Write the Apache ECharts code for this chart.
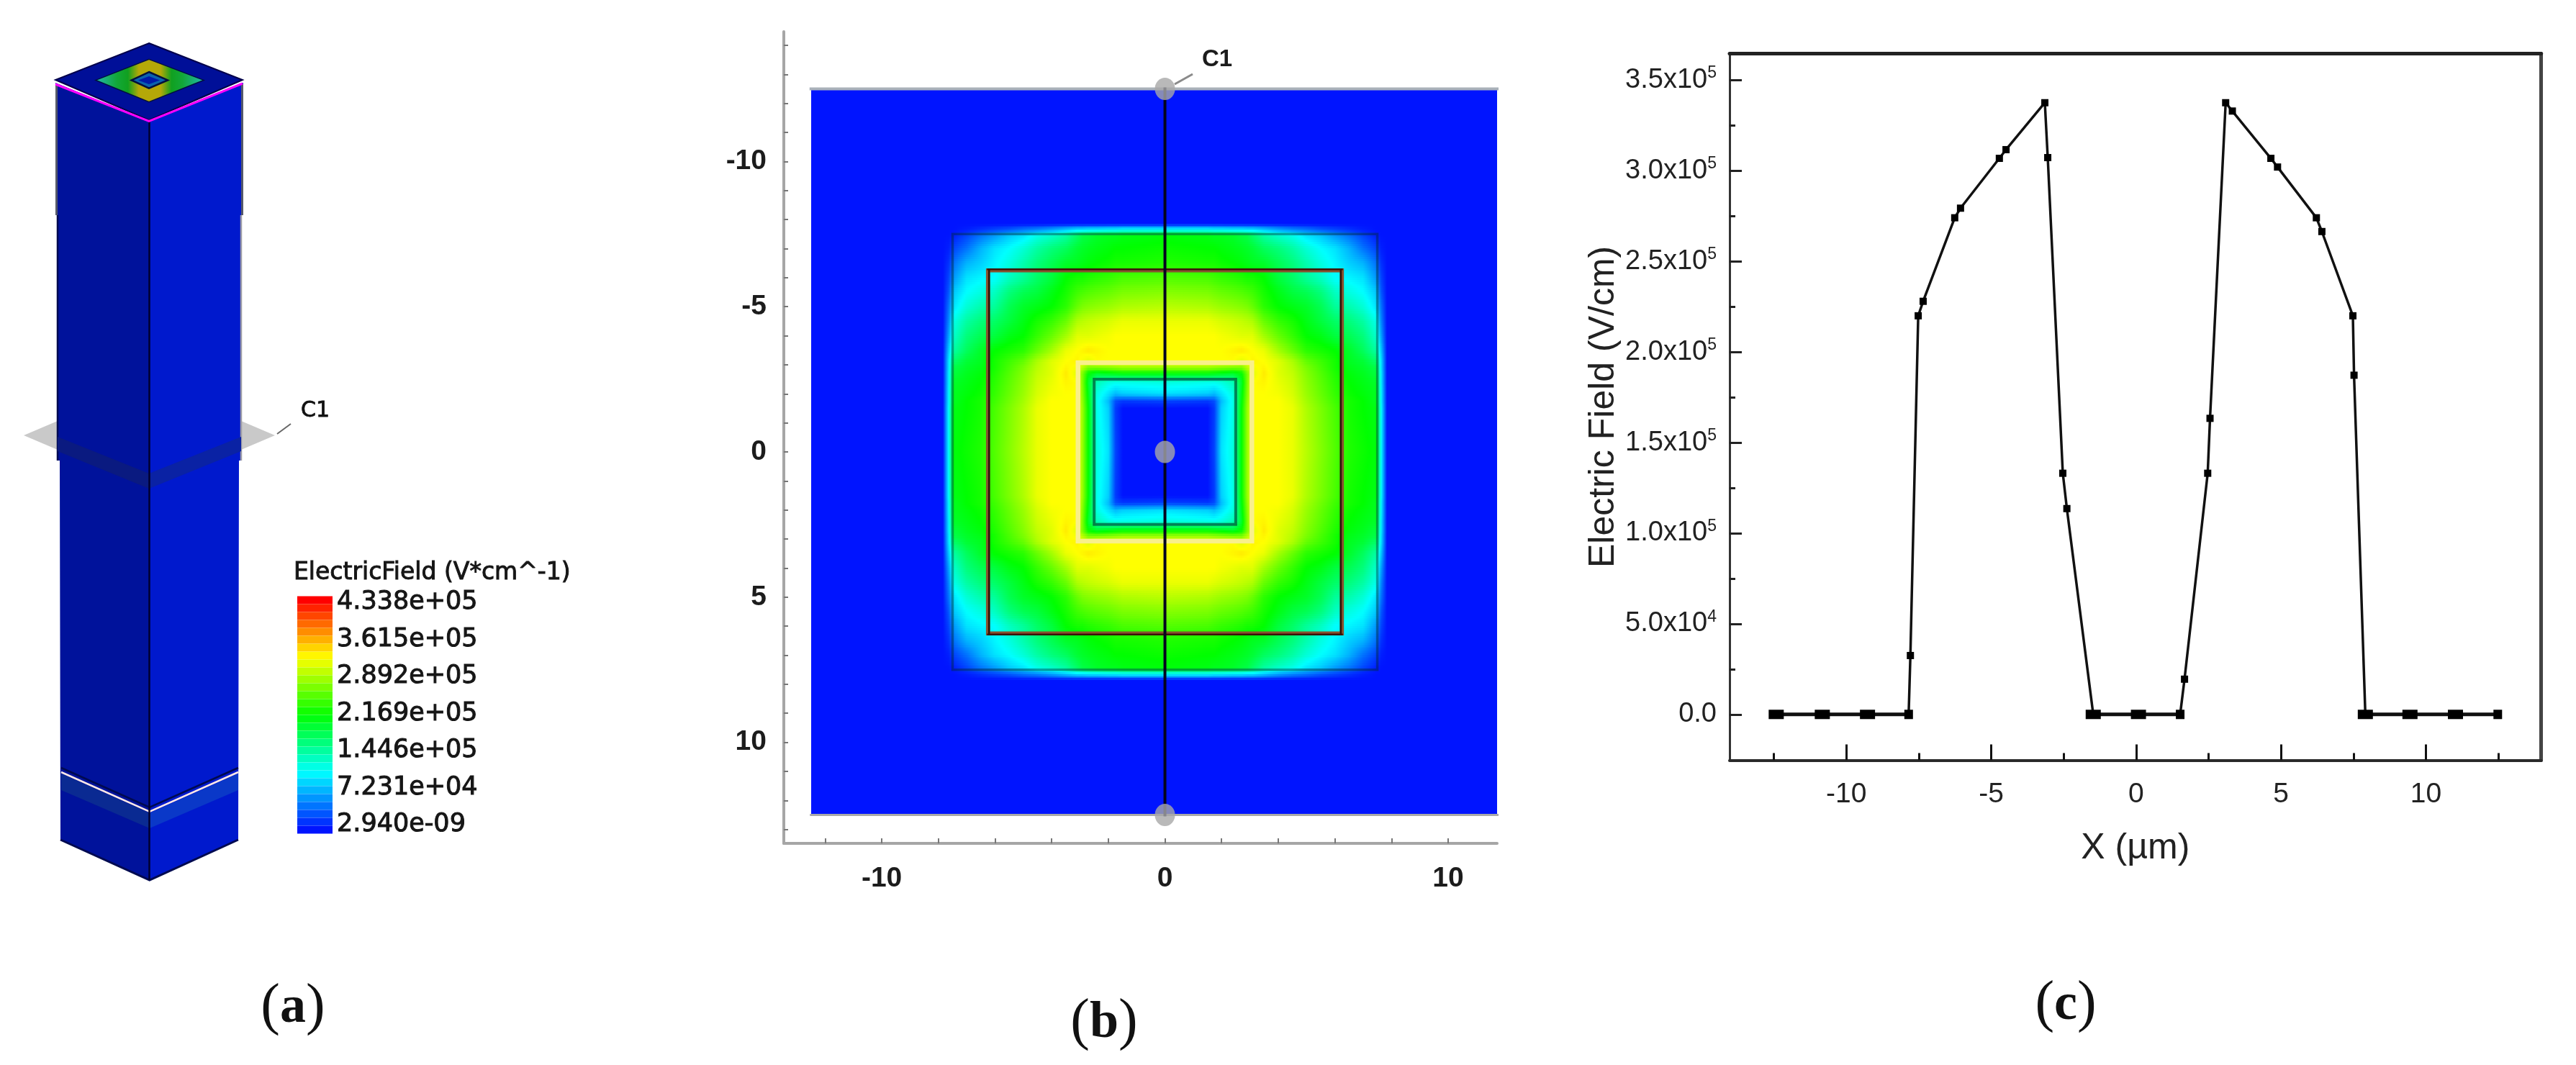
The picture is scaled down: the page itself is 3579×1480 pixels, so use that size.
<!DOCTYPE html>
<html><head><meta charset="utf-8">
<style>html,body{margin:0;padding:0;background:#fff}#chart{width:3579px;height:1480px}</style>
<script src="https://cdn.jsdelivr.net/npm/echarts@6/dist/echarts.min.js"></script>
</head><body><div id="chart"></div>
<script>
// ---- Panel (c): electric field along the cut line
const profileX = [-12.42,-10.83,-9.27,-7.85,-7.79,-7.52,-7.35,-6.26,-6.06,-4.72,-4.49,-3.15,-3.05,-2.53,-2.39,-1.48,0.08,1.52,1.67,2.47,2.55,3.09,3.32,4.65,4.88,6.22,6.41,7.48,7.52,7.91,9.45,11.02,12.48];
const profileField = [0,0,0,0,32500,220000,228000,274100,279400,306900,311700,337600,307300,133100,113600,0,0,0,19450,133100,163400,337600,333000,306900,302100,274100,266500,220000,187200,0,0,0,0];
const profileYTicks = [0,50000,100000,150000,200000,250000,300000,350000];
const profileYMinor = [25000,75000,125000,175000,225000,275000,325000];
const profileYLabels = [['0.0',''],['5.0x10','4'],['1.0x10','5'],['1.5x10','5'],['2.0x10','5'],['2.5x10','5'],['3.0x10','5'],['3.5x10','5']];
const profileXTicks = [-10,-5,0,5,10];
const profileXMinor = [-12.5,-7.5,-2.5,2.5,7.5,12.5];

const fieldCoords = [0,1.5,1.75,2,2.4,2.7,2.9,3.1,3.5,4,4.5,5,5.5,6,6.5,7,7.45,7.65,7.85,12.5];
const fieldQuadrantPct = [
 [0,0,5,22,28,50,65,75,75,75,73,68,63,58,53,51,49,25,0,0],
 [0,0,4,20,27,50,65,75,75,75,73,67,62,57,52,50,48,25,0,0],
 [5,4,6,18,27,49,64,75,75,75,72,66,61,56,52,50,47,24,0,0],
 [22,20,18,22,28,48,63,75,75,74,71,65,60,55,51,49,47,24,0,0],
 [28,27,27,28,32,46,62,75,76,73,70,64,59,54,50,48,46,23,0,0],
 [50,50,49,48,46,50,62,72,77,72,69,63,58,53,49,47,44,23,0,0],
 [65,65,64,63,62,62,68,74,76,72,68,62,57,52,48,46,43,22,0,0],
 [75,75,75,75,75,72,74,76,75,72,67,60,56,52,47,45,40,22,0,0],
 [75,75,75,75,76,77,76,75,73,66,60,54,52,50,46,41,34,19,0,0],
 [75,75,75,74,73,72,72,72,66,60,55,50,48,44,42,38,30,15,0,0],
 [73,73,72,71,70,69,68,67,60,55,52,48,44,40,38,34,27,12,0,0],
 [68,67,66,65,64,63,62,60,54,50,48,46,42,35,33,29,22,10,0,0],
 [63,62,61,60,59,58,57,56,52,48,44,42,38,31,28,25,19,7,0,0],
 [58,57,56,55,54,53,52,52,50,44,40,35,31,25,24,22,14,5,0,0],
 [53,52,52,51,50,49,48,47,46,42,38,33,28,24,20,17,10,3,0,0],
 [51,50,50,49,48,47,46,45,41,38,34,29,25,22,17,10,5,1,0,0],
 [49,48,47,47,46,44,43,40,34,30,27,22,19,14,10,5,1,0,0,0],
 [25,25,24,24,23,23,22,22,19,15,12,10,7,5,3,1,0,0,0,0],
 [0,0,0,0,0,0,0,0,0,0,0,0,0,0,0,0,0,0,0,0],
 [0,0,0,0,0,0,0,0,0,0,0,0,0,0,0,0,0,0,0,0]
];
const mapXLabelValues = [-10,0,10];
const mapXTickValues = [-12,-10,-8,-6,-4,-2,0,2,4,6,8,10];
const mapYLabelValues = [-10,-5,0,5,10];
const mapYTickValues = [-14,-13,-12,-11,-10,-9,-8,-7,-6,-5,-4,-3,-2,-1,0,1,2,3,4,5,6,7,8,9,10,11,12,13];
const cutPointsY = [-12.5,0,12.5];
const frameOuter = 7.5, frameMetal = 6.25, frameLight = 3.07, frameInner = 2.5, fieldEdge = 12.5;

// ---- Colour scale
const scaleMax = 433800;
const scaleColors = ['#0014ff','#00ffff','#00ff00','#ffff00','#ff0000'];
const scaleTicks = [2.94e-9,72310,144600,216900,289200,361500,433800];
const scaleLabels = ['2.940e-09','7.231e+04','1.446e+05','2.169e+05','2.892e+05','3.615e+05','4.338e+05'];

// ---- helpers
const rgb = scaleColors.map(c => [1,3,5].map(k => parseInt(c.slice(k,k+2),16)));
function colorOf(v){
  const t = Math.max(0, Math.min(1, v / scaleMax)) * (rgb.length - 1);
  const k = Math.min(rgb.length - 2, Math.floor(t)), f = t - k;
  const c = rgb[k].map((a, n) => Math.round(a + (rgb[k+1][n] - a) * f));
  return 'rgb(' + c.join(',') + ')';
}
const fieldAxis = fieldCoords.slice(1).reverse().map(v => -v).concat(fieldCoords);
const quadIndex = fieldCoords.slice(1).map((_, i) => fieldCoords.length - 1 - i).concat(fieldCoords.map((_, i) => i));
function nodeValue(i, j){ return fieldQuadrantPct[quadIndex[j]][quadIndex[i]] / 100 * scaleMax; }
const fieldCells = [];
for (let j = 0; j < fieldAxis.length - 1; j++)
  for (let i = 0; i < fieldAxis.length - 1; i++)
    fieldCells.push([fieldAxis[i], fieldAxis[j], nodeValue(i, j), i, j]);

function renderCell(params, api){
  const i = api.value(3), j = api.value(4);
  const a = api.coord([fieldAxis[i], fieldAxis[j]]), b = api.coord([fieldAxis[i+1], fieldAxis[j+1]]);
  const x0 = Math.round(a[0]), x1 = Math.round(b[0]), y0 = Math.round(a[1]), y1 = Math.round(b[1]);
  if (x1 <= x0 || y1 <= y0) return null;
  const v00 = nodeValue(i,j), v10 = nodeValue(i+1,j), v01 = nodeValue(i,j+1), v11 = nodeValue(i+1,j+1);
  const flat = v00 === v10 && v00 === v01 && v00 === v11;
  const rows = flat ? 1 : Math.ceil((y1 - y0) / 3);
  const children = [];
  for (let r = 0; r < rows; r++){
    const top = y0 + Math.round((y1 - y0) * r / rows), bot = y0 + Math.round((y1 - y0) * (r + 1) / rows);
    const f = (r + 0.5) / rows;
    const vl = v00 + (v01 - v00) * f, vr = v10 + (v11 - v10) * f;
    let fill;
    if (vl === vr) fill = colorOf(vl);
    else {
      const stops = [];
      for (let s = 0; s <= 6; s++) stops.push({offset: s / 6, color: colorOf(vl + (vr - vl) * s / 6)});
      fill = new echarts.graphic.LinearGradient(0, 0, 1, 0, stops);
    }
    children.push({type:'rect', shape:{x:x0, y:top, width:x1 - x0, height:bot - top}, style:{fill}, silent:true});
  }
  return {type:'group', children};
}
const square = s => [[-s,-s],[s,-s],[s,s],[-s,s],[-s,-s]];

const narrow = '"Liberation Sans Narrow","Liberation Sans",Arial,sans-serif';
const sans = '"Liberation Sans",Arial,sans-serif';
const dejavu = '"DejaVu Sans",sans-serif';
const serif = '"Liberation Serif",serif';

const lineGap = {type:'line', showSymbol:false, silent:true, animation:false, clip:true};
function frameSeries(data, color, width, z){
  return Object.assign({}, lineGap, {xAxisIndex:1, yAxisIndex:1, data, z, lineStyle:{color, width, cap:'square', join:'miter'}, itemStyle:{color}});
}
const letterRich = {p:{fontFamily:serif, fontSize:80, fill:'#111'}, l:{fontFamily:serif, fontWeight:'bold', fontSize:72, fill:'#111'}};

const option = {
  animation:false,
  backgroundColor:'#ffffff',
  tooltip:{show:false},
  grid:[
    {left:413, top:828.6, width:49, height:330.1},
    {left:1089, top:44, width:991, height:1128},
    {left:2403, top:74.4, width:1127.7, height:982.1},
    {left:2403, top:74.4, width:1127.7, height:982.1}
  ],
  xAxis:[
    {gridIndex:0, type:'value', show:false, min:0, max:1},
    {gridIndex:1, type:'value', min:-13.46, max:11.73, position:'bottom',
      axisLine:{onZero:false, lineStyle:{color:'#a6a6a6', width:4}},
      axisTick:{show:true, inside:true, length:7, customValues:mapXTickValues, lineStyle:{color:'#777', width:2}},
      axisLabel:{customValues:mapXLabelValues, margin:30, color:'#1c1c1c', fontFamily:sans, fontWeight:'bold', fontSize:39},
      splitLine:{show:false}},
    {gridIndex:2, type:'value', min:-14.03, max:13.98, position:'bottom', name:'X (\u00b5m)', nameLocation:'middle', nameGap:98,
      nameTextStyle:{fontFamily:narrow, fontSize:50, color:'#222'},
      axisLine:{onZero:false, lineStyle:{color:'#2a2a2a', width:4}},
      axisTick:{show:true, inside:true, length:22, customValues:profileXTicks, lineStyle:{color:'#111', width:3}},
      axisLabel:{customValues:profileXTicks, margin:28, color:'#222', fontFamily:narrow, fontSize:39},
      splitLine:{show:false}},
    {gridIndex:2, type:'value', min:-14.03, max:13.98, position:'top',
      axisLine:{onZero:false, lineStyle:{color:'#222', width:5}}, axisTick:{show:false}, axisLabel:{show:false}, splitLine:{show:false}},
    {gridIndex:3, type:'value', min:-14.03, max:13.98, position:'bottom',
      axisLine:{show:false, onZero:false}, axisLabel:{show:false}, splitLine:{show:false},
      axisTick:{show:true, inside:true, length:10, customValues:profileXMinor, lineStyle:{color:'#111', width:3}}}
  ],
  yAxis:[
    {gridIndex:0, type:'value', min:-17830, max:445590, position:'right', axisLine:{show:false}, axisTick:{show:false}, splitLine:{show:false},
      axisLabel:{customValues:scaleTicks, margin:6, align:'left', color:'#161616', fontFamily:dejavu, fontSize:35, textBorderColor:'#161616', textBorderWidth:1,
        formatter:v => { let b = 0; scaleTicks.forEach((t,k) => { if (Math.abs(t - v) < Math.abs(scaleTicks[b] - v)) b = k; }); return scaleLabels[b]; }}},
    {gridIndex:1, type:'value', min:-14.47, max:13.48, inverse:true, position:'left',
      axisLine:{onZero:false, lineStyle:{color:'#a6a6a6', width:4}},
      axisTick:{show:true, inside:true, length:6, customValues:mapYTickValues, lineStyle:{color:'#777', width:2}},
      axisLabel:{customValues:mapYLabelValues, margin:24, color:'#1c1c1c', fontFamily:sans, fontWeight:'bold', fontSize:39},
      splitLine:{show:false}},
    {gridIndex:2, type:'value', min:-25300, max:364740, position:'left', name:'Electric Field (V/cm)', nameLocation:'middle', nameRotate:90, nameGap:150,
      nameTextStyle:{fontFamily:sans, fontSize:50, color:'#222'},
      axisLine:{onZero:false, lineStyle:{color:'#333', width:3}},
      axisTick:{show:true, inside:true, length:17, customValues:profileYTicks, lineStyle:{color:'#222', width:3}},
      axisLabel:{customValues:profileYTicks, margin:18, color:'#222', fontFamily:narrow, fontSize:38,
        formatter:v => { const p = profileYLabels[profileYTicks.indexOf(v)]; return p[1] ? '{b|' + p[0] + '}{s|' + p[1] + '}' : '{b|' + p[0] + '}'; },
        rich:{b:{fontFamily:narrow, fontSize:38, lineHeight:42, color:'#222'}, s:{fontFamily:narrow, fontSize:23, lineHeight:23, verticalAlign:'top', color:'#222'}}},
      splitLine:{show:false}},
    {gridIndex:2, type:'value', min:-25300, max:364740, position:'right',
      axisLine:{onZero:false, lineStyle:{color:'#444', width:5}}, axisTick:{show:false}, axisLabel:{show:false}, splitLine:{show:false}},
    {gridIndex:3, type:'value', min:-25300, max:364740, position:'left',
      axisLine:{show:false, onZero:false}, axisLabel:{show:false}, splitLine:{show:false},
      axisTick:{show:true, inside:true, length:8, customValues:profileYMinor, lineStyle:{color:'#222', width:3}}}
  ],
  visualMap:[{
    type:'piecewise', seriesIndex:0, dimension:2, min:0, max:scaleMax, splitNumber:30,
    left:413, top:828.6, orient:'vertical', itemWidth:49, itemHeight:11, itemGap:0, itemSymbol:'rect',
    showLabel:false, hoverLink:false, selectedMode:false, padding:0,
    inRange:{color:scaleColors}
  }],
  series:[
    {type:'custom', coordinateSystem:'cartesian2d', xAxisIndex:1, yAxisIndex:1, data:fieldCells, renderItem:renderCell, clip:true, z:1, silent:true,
      encode:{x:0, y:1}},
    frameSeries(square(frameOuter), 'rgba(0,40,40,0.42)', 3.5, 2),
    frameSeries(square(frameLight), '#f9f08a', 6.5, 2),
    frameSeries(square(frameInner), 'rgba(0,50,40,0.6)', 4, 2),
    frameSeries(square(frameMetal), '#86522f', 5.5, 3),
    frameSeries([[-frameMetal+0.04,-frameMetal],[-frameMetal+0.04,frameMetal]], '#2a1408', 2.5, 3),
    frameSeries([[frameMetal-0.04,-frameMetal],[frameMetal-0.04,frameMetal]], '#2a1408', 2.5, 3),
    frameSeries([[-frameMetal,-frameMetal-0.04],[frameMetal,-frameMetal-0.04]], '#3a1408', 2.5, 3),
    frameSeries([[-frameMetal,frameMetal+0.04],[frameMetal,frameMetal+0.04]], '#3a1408', 2.5, 3),
    frameSeries([[-fieldEdge,-fieldEdge],[fieldEdge,-fieldEdge]], '#a9b1b9', 4, 3),
    frameSeries([[-fieldEdge,fieldEdge],[fieldEdge,fieldEdge]], '#a9a9a9', 3, 3),
    frameSeries([[0,cutPointsY[0]],[0,cutPointsY[2]]], '#05051f', 4, 4),
    {type:'scatter', xAxisIndex:1, yAxisIndex:1, data:cutPointsY.map(y => [0,y]), symbol:'circle', symbolSize:[28,31], itemStyle:{color:'#a8a8a8'}, z:5, silent:true, clip:false},
    // profile line, thick baseline, markers
    {type:'line', xAxisIndex:2, yAxisIndex:2, data:profileX.map((x,k) => [x, profileField[k]]), symbol:'rect',
      symbolSize:(v, p) => {
        if (v[1] !== 0) return [10,10];
        const nxt = profileField[p.dataIndex + 1];
        return nxt === 0 ? [21,13] : [12,13];
      },
      lineStyle:{color:'#111', width:3.5}, itemStyle:{color:'#000'}, z:4, silent:true, clip:false},
    {type:'line', xAxisIndex:2, yAxisIndex:2, data:profileX.map((x,k) => [x, profileField[k] === 0 ? 0 : null]), showSymbol:false, connectNulls:false,
      lineStyle:{color:'#111', width:5}, z:3, silent:true}
  ],
  graphic:[
    // Panel (a): device column sketch
    {type:'polygon', z:1, shape:{points:[[33,605],[80,585],[80,625]]}, style:{fill:'#c9c9c9'}},
    {type:'polygon', z:1, shape:{points:[[382,605],[335,585],[335,625]]}, style:{fill:'#c9c9c9'}},
    {type:'polygon', z:2, shape:{points:[[77,115],[207,168],[207,1223],[84,1167],[83,640],[80,640],[80,299],[77,299]]}, style:{fill:'#00129b'}},
    {type:'polygon', z:2, shape:{points:[[207,168],[338,115],[338,299],[335,299],[335,640],[332,640],[331,1167],[207,1223]]}, style:{fill:'#0019cd'}},
    {type:'line', z:3, shape:{x1:78.5,y1:117,x2:78.5,y2:299}, style:{stroke:'#55596a', lineWidth:3}},
    {type:'line', z:3, shape:{x1:336.5,y1:117,x2:336.5,y2:299}, style:{stroke:'#55596a', lineWidth:3}},
    {type:'polyline', z:3, shape:{points:[[80,299],[80,640]]}, style:{stroke:'#000a50', lineWidth:2.5}},
    {type:'polyline', z:3, shape:{points:[[335,299],[335,640]]}, style:{stroke:'#9a9aa8', lineWidth:2.5}},
    {type:'polygon', z:3, shape:{points:[[80,607],[207,658],[207,679],[80,627]]}, style:{fill:'#0a1a80'}},
    {type:'polygon', z:3, shape:{points:[[207,658],[335,607],[335,627],[207,679]]}, style:{fill:'#0a22a4'}},
    {type:'polygon', z:3, shape:{points:[[85,1075],[207.8,1130],[207.8,1151],[85,1098]]}, style:{fill:'#0a2a92'}},
    {type:'polygon', z:3, shape:{points:[[207.8,1130],[331,1075],[331,1098],[207.8,1151]]}, style:{fill:'#0a38c8'}},
    {type:'polyline', z:4, shape:{points:[[85,1067],[207.8,1122],[331,1067]]}, style:{stroke:'#000a50', lineWidth:2.5, fill:null}},
    {type:'polyline', z:4, shape:{points:[[85,1073],[207.8,1128],[331,1073]]}, style:{stroke:'#ffe9e6', lineWidth:2.5, fill:null}},
    {type:'polyline', z:4, shape:{points:[[84,1167],[207.8,1223],[331,1167]]}, style:{stroke:'#000a50', lineWidth:3, fill:null}},
    {type:'line', z:4, shape:{x1:207.5,y1:168,x2:207.5,y2:1223}, style:{stroke:'#00002e', lineWidth:2.5}},
    {type:'polygon', z:5, shape:{points:[[207,60],[337,111],[207,167],[77,111]]}, style:{fill:'#000f98', stroke:'#00004a', lineWidth:2}},
    {type:'polygon', z:6, shape:{points:[[207,82.4],[283,111.4],[207,141.8],[133,111.4]]}, style:{stroke:'#001040', lineWidth:1.5,
      fill:new echarts.graphic.LinearGradient(0,0,1,0,[{offset:0,color:'#22b8b0'},{offset:0.2,color:'#12a838'},{offset:0.3,color:'#10a020'},{offset:0.4,color:'#b4a808'},{offset:0.6,color:'#b4a808'},{offset:0.7,color:'#10a020'},{offset:0.8,color:'#12a838'},{offset:1,color:'#22b8b0'}])}},
    {type:'polygon', z:7, shape:{points:[[207,100],[233,111.4],[207,122.6],[182.7,111.4]]}, style:{stroke:'#00103c', lineWidth:2.5, fill:'#0a62ae'}},
    {type:'polygon', z:8, shape:{points:[[207,106],[222,111.4],[207,117],[192,111.4]]}, style:{fill:'#001aa8'}},
    {type:'polyline', z:8, shape:{points:[[77,117],[207,168.5],[337,116]]}, style:{stroke:'#ff00ff', lineWidth:3, fill:null}},
    {type:'line', z:8, shape:{x1:385,y1:603,x2:404,y2:589}, style:{stroke:'#666', lineWidth:2}},
    {type:'text', z:9, style:{text:'C1', x:438, y:571, align:'center', verticalAlign:'middle', fontFamily:dejavu, fontSize:30, fill:'#111', stroke:'#111', lineWidth:0.8}},
    {type:'text', z:9, style:{text:'ElectricField (V*cm^-1)', x:408, y:796, align:'left', verticalAlign:'middle', fontFamily:dejavu, fontSize:33, fill:'#161616', stroke:'#161616', lineWidth:1}},
    // Panel (b) annotation
    {type:'line', z:9, shape:{x1:1632,y1:117,x2:1657,y2:103}, style:{stroke:'#8a8a8a', lineWidth:3}},
    {type:'text', z:9, style:{text:'C1', x:1691, y:83, align:'center', verticalAlign:'middle', fontFamily:sans, fontWeight:'bold', fontSize:33, fill:'#1c1c1c'}},
    // Panel letters
    {type:'text', z:9, style:{text:'{p|(}{l|a}{p|)}', x:407, y:1401, align:'center', verticalAlign:'middle', rich:letterRich}},
    {type:'text', z:9, style:{text:'{p|(}{l|b}{p|)}', x:1534, y:1422, align:'center', verticalAlign:'middle', rich:letterRich}},
    {type:'text', z:9, style:{text:'{p|(}{l|c}{p|)}', x:2870, y:1397, align:'center', verticalAlign:'middle', rich:letterRich}}
  ]
};
echarts.init(document.getElementById('chart'), null, {renderer:'canvas'}).setOption(option);
</script></body></html>
